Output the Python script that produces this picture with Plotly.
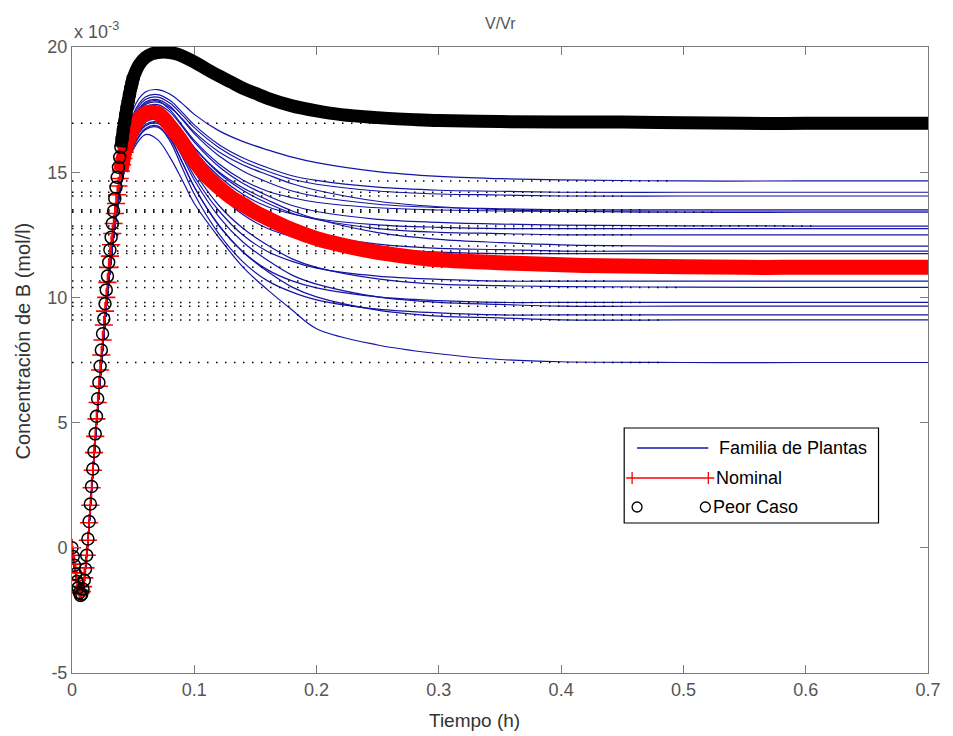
import plotly.graph_objects as go

# ---------------------------------------------------------------------------
# Step responses of the concentration of B (units of 1e-3 mol/l) vs time (h)
# ---------------------------------------------------------------------------

# fine sampling of the initial inverse response (worst case and nominal)
T_RISE = [0.000, 0.001, 0.002, 0.003, 0.004, 0.005, 0.006, 0.007, 0.008, 0.009,
          0.010, 0.011, 0.012, 0.013, 0.014, 0.015, 0.016, 0.017, 0.018, 0.019,
          0.020, 0.021, 0.022, 0.023, 0.024, 0.025, 0.026, 0.027, 0.028, 0.029,
          0.030, 0.031, 0.032, 0.033, 0.034, 0.035, 0.036, 0.037, 0.038, 0.039,
          0.040, 0.041, 0.042, 0.043, 0.044, 0.045, 0.046, 0.047, 0.048, 0.049,
          0.050]
T_TAIL = [0.055, 0.060, 0.065, 0.070, 0.075, 0.080, 0.085, 0.090, 0.10, 0.11,
          0.12, 0.13, 0.14, 0.15, 0.16, 0.18, 0.20, 0.22, 0.25, 0.28,
          0.30, 0.35, 0.40, 0.45, 0.50, 0.55, 0.60, 0.65, 0.70]

WORST_RISE = [0.00, -0.35, -0.70, -1.05, -1.35, -1.60, -1.80, -1.90, -1.85, -1.65,
              -1.30, -0.85, -0.30, 0.35, 1.05, 1.75, 2.45, 3.15, 3.85, 4.55,
              5.25, 5.95, 6.60, 7.25, 7.90, 8.55, 9.15, 9.75, 10.30, 10.85,
              11.40, 11.90, 12.40, 12.95, 13.45, 13.95, 14.40, 14.80, 15.20, 15.60,
              16.00, 16.35, 16.70, 17.00, 17.30, 17.60, 17.85, 18.10, 18.35, 18.55,
              18.75]
WORST_TAIL = [19.30, 19.58, 19.72, 19.78, 19.80, 19.78, 19.73, 19.64, 19.40, 19.12,
              18.85, 18.60, 18.35, 18.15, 17.95, 17.65, 17.45, 17.30, 17.18, 17.10,
              17.06, 17.02, 17.00, 17.00, 16.97, 16.95, 16.95, 16.95, 16.95]

NOMINAL_RISE = [0.00, -0.30, -0.65, -1.00, -1.30, -1.55, -1.70, -1.80, -1.75, -1.55,
                -1.20, -0.80, -0.30, 0.30, 1.00, 1.70, 2.40, 3.10, 3.80, 4.45,
                5.15, 5.80, 6.45, 7.10, 7.70, 8.30, 8.90, 9.45, 10.00, 10.60,
                11.20, 11.65, 12.10, 12.55, 12.95, 13.35, 13.75, 14.10, 14.45, 14.75,
                15.05, 15.30, 15.55, 15.80, 16.00, 16.20, 16.35, 16.50, 16.60, 16.70,
                16.80]
NOMINAL_TAIL = [17.15, 17.35, 17.40, 17.35, 17.15, 16.85, 16.55, 16.20, 15.45, 14.85,
                14.40, 14.00, 13.70, 13.40, 13.15, 12.70, 12.35, 12.10, 11.80, 11.60,
                11.50, 11.38, 11.30, 11.25, 11.22, 11.20, 11.20, 11.20, 11.20]

# family of plants: common start, individual responses afterwards
FAM_T_RISE = [0.0, 0.004, 0.008, 0.012, 0.016, 0.020, 0.025, 0.030, 0.035, 0.040]
FAM_V_RISE = [0.0, -1.3, -1.8, -0.3, 2.3, 4.9, 7.9, 10.6, 12.8, 14.5]
FAM_T_TAIL = [0.05, 0.06, 0.07, 0.08, 0.09, 0.10, 0.12, 0.14, 0.16, 0.18,
              0.20, 0.25, 0.30, 0.35, 0.40, 0.50, 0.60, 0.70]
FAMILY = [
    [17.5, 18.2, 18.3, 18.12, 17.75, 17.31, 16.66, 16.22, 15.89, 15.6, 15.38, 15.02, 14.83, 14.74, 14.69, 14.65, 14.65, 14.65],
    [17.3, 18.0, 18.1, 17.87, 17.4, 16.89, 16.11, 15.57, 15.18, 14.86, 14.67, 14.4, 14.28, 14.24, 14.2, 14.2, 14.2, 14.2],
    [17.2, 17.9, 18.0, 17.76, 17.29, 16.78, 15.99, 15.43, 15.04, 14.72, 14.52, 14.25, 14.13, 14.09, 14.05, 14.05, 14.05, 14.05],
    [17.1, 17.8, 17.9, 17.64, 17.11, 16.54, 15.66, 15.04, 14.6, 14.25, 14.03, 13.72, 13.59, 13.54, 13.5, 13.5, 13.5, 13.5],
    [17.05, 17.75, 17.85, 17.5, 16.88, 16.27, 15.34, 14.68, 14.24, 13.98, 13.8, 13.58, 13.49, 13.45, 13.45, 13.45, 13.45, 13.45],
    [17.0, 17.7, 17.8, 17.58, 17.14, 16.61, 15.82, 15.29, 14.9, 14.54, 14.28, 13.84, 13.62, 13.51, 13.44, 13.4, 13.4, 13.4],
    [16.9, 17.6, 17.7, 17.41, 16.83, 16.2, 15.23, 14.55, 14.06, 13.67, 13.43, 13.12, 13.0, 12.93, 12.89, 12.86, 12.85, 12.85],
    [16.8, 17.5, 17.6, 17.21, 16.53, 15.85, 14.84, 14.11, 13.62, 13.33, 13.14, 12.9, 12.8, 12.75, 12.75, 12.75, 12.75, 12.75],
    [16.75, 17.45, 17.55, 17.25, 16.64, 15.98, 14.97, 14.27, 13.76, 13.36, 13.11, 12.75, 12.6, 12.55, 12.5, 12.5, 12.5, 12.5],
    [16.65, 17.35, 17.45, 17.18, 16.64, 15.99, 15.02, 14.37, 13.89, 13.45, 13.13, 12.59, 12.32, 12.19, 12.1, 12.05, 12.05, 12.05],
    [16.6, 17.3, 17.4, 17.07, 16.4, 15.68, 14.57, 13.79, 13.24, 12.79, 12.52, 12.13, 11.96, 11.91, 11.85, 11.85, 11.85, 11.85],
    [16.5, 17.2, 17.3, 16.86, 16.08, 15.3, 14.14, 13.3, 12.75, 12.42, 12.19, 11.92, 11.81, 11.75, 11.75, 11.75, 11.75, 11.75],
    [16.4, 17.1, 17.2, 16.68, 15.76, 14.84, 13.47, 12.48, 11.83, 11.44, 11.17, 10.85, 10.72, 10.65, 10.65, 10.65, 10.65, 10.65],
    [16.3, 17.0, 17.1, 16.7, 15.89, 15.02, 13.68, 12.75, 12.08, 11.54, 11.2, 10.74, 10.53, 10.47, 10.43, 10.41, 10.4, 10.4],
    [16.2, 16.9, 17.0, 16.42, 15.42, 14.41, 12.9, 11.82, 11.1, 10.66, 10.38, 10.02, 9.87, 9.8, 9.8, 9.8, 9.8, 9.8],
    [16.15, 16.85, 16.95, 16.51, 15.64, 14.69, 13.23, 12.2, 11.48, 10.89, 10.53, 10.02, 9.8, 9.72, 9.65, 9.65, 9.65, 9.65],
    [16.05, 16.75, 16.85, 16.25, 15.19, 14.13, 12.55, 11.41, 10.66, 10.21, 9.9, 9.53, 9.38, 9.3, 9.3, 9.3, 9.3, 9.3],
    [16.0, 16.7, 16.8, 16.34, 15.41, 14.41, 12.87, 11.8, 11.03, 10.41, 10.02, 9.49, 9.25, 9.18, 9.1, 9.1, 9.1, 9.1],
    [15.9, 16.5, 16.3, 15.6, 14.7, 13.75, 12.4, 11.2, 10.3, 9.5, 8.75, 8.1, 7.75, 7.52, 7.43, 7.4, 7.4, 7.4],
]
# time up to which each steady-state reference line is drawn
FAMILY_SETTLE = [0.49, 0.43, 0.45, 0.47, 0.45, 0.53, 0.61, 0.46, 0.46, 0.45,
                 0.44, 0.42, 0.44, 0.50, 0.47, 0.45, 0.47, 0.48, 0.48]
NOMINAL_SETTLE = 0.45
WORST_SETTLE = 0.48

X_TICKS = [0, 0.1, 0.2, 0.3, 0.4, 0.5, 0.6, 0.7]
X_TICKTEXT = ["0", "0.1", "0.2", "0.3", "0.4", "0.5", "0.6", "0.7"]
Y_TICKS = [-5, 0, 5, 10, 15, 20]
Y_TICKTEXT = ["-5", "0", "5", "10", "15", "20"]

BLUE = "#1414a8"
RED = "#ff0000"
FONT = "Liberation Sans, Arial, sans-serif"
AXIS_GREY = "#7a7a7a"
LABEL_GREY = "#555555"

fig = go.Figure()

# family of plants
for vals in FAMILY:
    fig.add_trace(go.Scatter(
        x=FAM_T_RISE + FAM_T_TAIL, y=FAM_V_RISE + vals, mode="lines",
        line=dict(color=BLUE, width=1.2, shape="spline"),
        hoverinfo="skip", showlegend=False))

# dotted steady-state references
nom_t = T_RISE + T_TAIL
nom_v = NOMINAL_RISE + NOMINAL_TAIL
wst_t = T_RISE + T_TAIL
wst_v = WORST_RISE + WORST_TAIL
finals = [(vals[-1], ts) for vals, ts in zip(FAMILY, FAMILY_SETTLE)]
finals += [(nom_v[-1], NOMINAL_SETTLE), (wst_v[-1], WORST_SETTLE)]
for yv, ts in finals:
    fig.add_trace(go.Scatter(
        x=[0, ts], y=[yv, yv], mode="lines",
        line=dict(color="black", width=1.5, dash="1.5px,7.5px"),
        hoverinfo="skip", showlegend=False))

# where the dense simulation markers merge into a solid band
band_start = T_RISE.index(0.040)
n_rise = len(T_RISE)

# nominal plant: '+' markers, solid red band once they overlap
fig.add_trace(go.Scatter(
    x=nom_t[band_start:], y=nom_v[band_start:], mode="lines",
    line=dict(color=RED, width=15, shape="spline"),
    hoverinfo="skip", showlegend=False))
fig.add_trace(go.Scatter(
    x=nom_t[:n_rise], y=nom_v[:n_rise], mode="lines+markers",
    line=dict(color=RED, width=1.2, shape="spline"),
    marker=dict(symbol="cross-thin", size=13, line=dict(color=RED, width=1.6)),
    hoverinfo="skip", showlegend=False))

# worst case: open circles, solid black band once they overlap
fig.add_trace(go.Scatter(
    x=wst_t[band_start:], y=wst_v[band_start:], mode="lines",
    line=dict(color="black", width=13, shape="spline"),
    hoverinfo="skip", showlegend=False))
fig.add_trace(go.Scatter(
    x=wst_t[:n_rise], y=wst_v[:n_rise], mode="markers",
    marker=dict(symbol="circle-open", size=12, color="black",
                line=dict(color="black", width=1.5)),
    hoverinfo="skip", showlegend=False))

# ---------------------------------------------------------------------------
# layout
# ---------------------------------------------------------------------------
W, H = 953, 736
PL, PR, PT, PB = 72, 937, 47, 673


def px(xp):
    return (xp - PL) / (PR - PL)


def py(yp):
    return (PB - yp) / (PB - PT)


axis_common = dict(
    showgrid=False, zeroline=False, showline=True, linecolor=AXIS_GREY,
    linewidth=1, mirror="ticks", ticks="inside", ticklen=8, tickwidth=1,
    tickcolor=AXIS_GREY, tickfont=dict(family=FONT, size=18, color=LABEL_GREY),
)
fig.update_layout(
    width=W, height=H,
    margin=dict(l=PL, r=W - PR, t=PT, b=H - PB),
    paper_bgcolor="white", plot_bgcolor="white",
    showlegend=False,
    xaxis=dict(range=[0, 0.7], tickvals=X_TICKS, ticktext=X_TICKTEXT, **axis_common),
    yaxis=dict(range=[-5, 20], tickvals=Y_TICKS, ticktext=Y_TICKTEXT, **axis_common),
)

annotations = [
    dict(text="V/Vr", x=0.5, y=1, xref="paper", yref="paper", xanchor="center",
         yanchor="middle", yshift=24, showarrow=False,
         font=dict(family=FONT, size=16, color=LABEL_GREY)),
    dict(text="x 10<sup>-3</sup>", x=0, y=1, xref="paper", yref="paper",
         xanchor="left", yanchor="middle", yshift=17, showarrow=False,
         font=dict(family=FONT, size=18, color=LABEL_GREY)),
    dict(text="Tiempo (h)", x=px(479), y=py(720), xref="paper", yref="paper",
         xanchor="center", yanchor="middle", showarrow=False,
         font=dict(family=FONT, size=19, color="#333333")),
    dict(text="Concentración de B (mol/l)", x=px(22), y=py(341), xref="paper",
         yref="paper", xanchor="center", yanchor="middle", textangle=-90,
         showarrow=False, font=dict(family=FONT, size=20, color="#333333")),
]

# legend box drawn in the MATLAB style
LEG = dict(x0=630, x1=887, y0=428, y1=523)
rows = [448, 478, 507]
shapes = [dict(type="rect", xref="paper", yref="paper",
               x0=px(LEG["x0"]), x1=px(LEG["x1"]), y0=py(LEG["y1"]), y1=py(LEG["y0"]),
               line=dict(color="black", width=1.2), fillcolor="white", layer="above")]
# Familia de Plantas
shapes.append(dict(type="line", xref="paper", yref="paper", x0=px(643), x1=px(715),
                   y0=py(rows[0]), y1=py(rows[0]), line=dict(color=BLUE, width=1.3)))
# Nominal: line with '+' at both ends
shapes.append(dict(type="line", xref="paper", yref="paper", x0=px(632), x1=px(721),
                   y0=py(rows[1]), y1=py(rows[1]), line=dict(color=RED, width=1.3)))
for cx in (638, 715):
    shapes.append(dict(type="line", xref="paper", yref="paper", x0=px(cx), x1=px(cx),
                       y0=py(rows[1] - 6), y1=py(rows[1] + 6), line=dict(color=RED, width=1.3)))
# Peor Caso: circles at both ends
for cx in (643, 712):
    shapes.append(dict(type="circle", xref="paper", yref="paper",
                       x0=px(cx - 5), x1=px(cx + 5), y0=py(rows[2] + 5), y1=py(rows[2] - 5),
                       line=dict(color="black", width=1.3)))

for text, xs, yr in (("Familia de Plantas", 724, rows[0]), ("Nominal", 721, rows[1]),
                     ("Peor Caso", 718, rows[2])):
    annotations.append(dict(text=text, x=px(xs), y=py(yr), xref="paper", yref="paper",
                            xanchor="left", yanchor="middle", showarrow=False,
                            font=dict(family=FONT, size=18, color="black")))

fig.update_layout(annotations=annotations, shapes=shapes)

fig.write_html("out.html")
